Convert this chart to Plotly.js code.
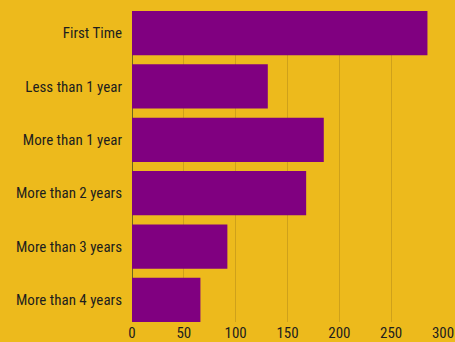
<!DOCTYPE html>
<html>
<head>
<meta charset="utf-8">
<script src="https://cdn.plot.ly/plotly-3.0.1.min.js"></script>
<style>html,body{margin:0;padding:0;background:#EDBA1C;}</style>
</head>
<body>
<div id="chart" style="width:455px;height:342px;"></div>
<script>
const categories = ["First Time", "Less than 1 year", "More than 1 year", "More than 2 years", "More than 3 years", "More than 4 years"];
const counts = [285, 131, 185, 168, 92, 66];
const xTicks = [0, 50, 100, 150, 200, 250, 300];

const fontFam = '"Roboto Condensed", "Liberation Sans Narrow", "DejaVu Sans Condensed", Roboto, sans-serif';

Plotly.newPlot('chart', [{
  type: 'bar',
  orientation: 'h',
  y: categories,
  x: counts,
  marker: {color: '#800080'},
  hoverinfo: 'x+y'
}], {
  width: 455,
  height: 342,
  paper_bgcolor: '#EDBA1C',
  plot_bgcolor: '#EDBA1C',
  margin: {l: 132, r: 12, t: 11, b: 20, pad: 0},
  bargap: 0.17,
  font: {family: fontFam, size: 15, color: '#1e1e1e'},
  showlegend: false,
  xaxis: {
    range: [0, 300],
    tickvals: xTicks,
    ticktext: xTicks.map(String),
    showgrid: true,
    gridcolor: '#CFA11A',
    gridwidth: 1,
    zeroline: true,
    zerolinecolor: '#6E6420',
    zerolinewidth: 1,
    ticks: '',
    tickfont: {family: fontFam, size: 15, color: '#1e1e1e'}
  },
  yaxis: {
    type: 'category',
    categoryorder: 'array',
    categoryarray: categories,
    range: [5.415, -0.415],
    showgrid: false,
    zeroline: false,
    ticks: '',
    ticklabelstandoff: 9,
    tickfont: {family: fontFam, size: 15, color: '#1e1e1e'}
  }
}, {displayModeBar: false, staticPlot: true});
</script>
</body>
</html>
